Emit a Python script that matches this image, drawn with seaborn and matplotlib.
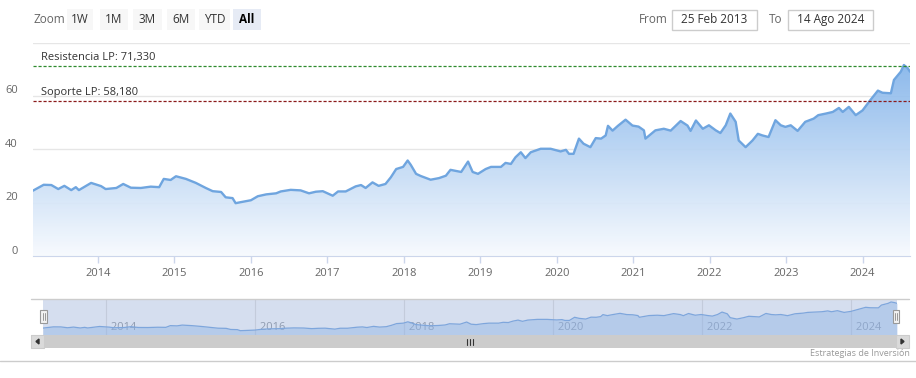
import numpy as np
import pandas as pd
import matplotlib
matplotlib.use("Agg")
import matplotlib.pyplot as plt
from matplotlib.patches import Rectangle, Polygon
from matplotlib.transforms import offset_copy
import seaborn as sns

# price series (decimal year, price)
years = [
    2013.15, 2013.29, 2013.39, 2013.48, 2013.56, 2013.65, 2013.71, 2013.75, 2013.91,
    2014.04, 2014.10, 2014.24, 2014.33, 2014.43, 2014.56, 2014.69, 2014.80, 2014.86, 2014.95,
    2015.02, 2015.15, 2015.28, 2015.41, 2015.50, 2015.61, 2015.67, 2015.76, 2015.80, 2015.87,
    2016.00, 2016.09, 2016.20, 2016.33, 2016.39, 2016.52, 2016.65, 2016.76, 2016.85, 2016.94,
    2017.07, 2017.14, 2017.24, 2017.37, 2017.44, 2017.50, 2017.59, 2017.67, 2017.76, 2017.83, 2017.90, 2017.99,
    2018.05, 2018.09, 2018.16, 2018.22, 2018.35, 2018.46, 2018.55, 2018.61, 2018.75, 2018.84, 2018.90, 2018.97,
    2019.07, 2019.14, 2019.27, 2019.33, 2019.40, 2019.46, 2019.53, 2019.59, 2019.66, 2019.79, 2019.92,
    2020.05, 2020.12, 2020.16, 2020.22, 2020.29, 2020.35, 2020.44, 2020.51, 2020.58, 2020.64, 2020.67, 2020.73, 2020.80, 2020.90, 2020.99,
    2021.07, 2021.14, 2021.16, 2021.29, 2021.40, 2021.49, 2021.62, 2021.71, 2021.75, 2021.82, 2021.91, 2021.99,
    2022.08, 2022.14, 2022.21, 2022.27, 2022.34, 2022.38, 2022.47, 2022.56, 2022.63, 2022.69, 2022.77, 2022.86, 2022.93, 2022.99,
    2023.06, 2023.15, 2023.25, 2023.36, 2023.42, 2023.52, 2023.61, 2023.69, 2023.74, 2023.82, 2023.91,
    2024.00, 2024.10, 2024.20, 2024.26, 2024.37, 2024.41, 2024.50, 2024.54, 2024.59, 2024.62,
]
prices = [
    24.5, 26.7, 26.6, 25.1, 26.3, 24.7, 25.8, 24.7, 27.4,
    26.2, 25.1, 25.5, 27.0, 25.6, 25.5, 26.0, 25.8, 28.9, 28.5,
    29.9, 28.9, 27.4, 25.5, 24.3, 24.0, 22.0, 21.7, 19.8, 20.2,
    20.9, 22.4, 23.1, 23.5, 24.2, 24.8, 24.6, 23.5, 24.1, 24.3,
    22.6, 24.2, 24.2, 26.1, 26.6, 25.5, 27.6, 26.3, 27.0, 29.5, 32.6, 33.4,
    35.8, 34.2, 30.8, 30.0, 28.6, 29.2, 30.1, 32.3, 31.5, 35.4, 31.5, 30.8,
    32.6, 33.4, 33.4, 34.9, 34.5, 37.0, 38.9, 36.7, 38.9, 40.2, 40.2,
    39.2, 39.8, 38.3, 38.3, 44.0, 42.1, 40.8, 44.2, 44.0, 45.2, 48.8, 47.0, 48.8, 51.1, 48.9,
    48.5, 47.1, 44.0, 47.1, 47.7, 47.0, 50.6, 48.9, 46.9, 50.8, 47.7, 49.0,
    47.1, 46.1, 49.0, 53.4, 50.3, 43.3, 40.8, 43.3, 45.8, 45.2, 44.6, 50.9, 49.0, 48.4,
    49.0, 46.9, 50.3, 51.5, 52.8, 53.4, 54.0, 55.5, 54.0, 55.9, 52.8,
    54.6, 58.4, 62.0, 61.2, 61.0, 66.0, 69.1, 71.6, 70.4, 69.1,
]

year_ticks = list(range(2014, 2025))
nav_ticks = [2014, 2016, 2018, 2020, 2022, 2024]
y_ticks = [0, 20, 40, 60]
resistance = 71.33
support = 58.18
resistance_label = "Resistencia LP: 71,330"
support_label = "Soporte LP: 58,180"
zoom_buttons = ["1W", "1M", "3M", "6M", "YTD", "All"]
date_from = "25 Feb 2013"
date_to = "14 Ago 2024"
start_year, end_year = 2013.15, 2024.62
credit = "Estrategias de Inversión"

W, H = 916, 378
sns.set_style("white")
plt.rcParams['font.family'] = ['Open Sans', 'DejaVu Sans']

df = pd.DataFrame({"year": years, "price": prices})

fig = plt.figure(figsize=(W / 100, H / 100), dpi=100)
fig.patch.set_facecolor("white")


def box(x0, y0, x1, y1):
    # pixel box (top-left origin) -> figure rect
    return [x0 / W, 1 - y1 / H, (x1 - x0) / W, (y1 - y0) / H]


# overlay in pixel coordinates for the buttons, inputs, scrollbar
ov = fig.add_axes([0, 0, 1, 1])
ov.set_xlim(0, W)
ov.set_ylim(H, 0)
ov.axis("off")
ov.patch.set_alpha(0)

ov.text(33, 19.5, "Zoom", ha="left", va="center", fontsize=8.5, color="#666666")
btn_x = [(67, 93), (100, 128), (133, 162), (167, 195), (199, 230), (233, 261)]
for label, (x0, x1) in zip(zoom_buttons, btn_x):
    sel = label == "All"
    ov.add_patch(Rectangle((x0, 9), x1 - x0, 21, facecolor="#e6ebf5" if sel else "#f7f7f7",
                           edgecolor="none"))
    ov.text((x0 + x1) / 2, 19.5, label, ha="center", va="center", fontsize=8.5,
            color="#000000" if sel else "#333333", fontweight="bold" if sel else "normal")

ov.text(639, 19.5, "From", ha="left", va="center", fontsize=8.5, color="#666666")
ov.add_patch(Rectangle((672, 10), 85, 20, facecolor="white", edgecolor="#cccccc", lw=1))
ov.text(714.5, 19.5, date_from, ha="center", va="center", fontsize=8.5, color="#333333")
ov.text(769, 19.5, "To", ha="left", va="center", fontsize=8.5, color="#666666")
ov.add_patch(Rectangle((788, 10), 85, 20, facecolor="white", edgecolor="#cccccc", lw=1))
ov.text(830.5, 19.5, date_to, ha="center", va="center", fontsize=8.5, color="#333333")

# scrollbar
ov.add_patch(Rectangle((31, 335), 878, 13, facecolor="#cccccc", edgecolor="none"))
ov.add_patch(Rectangle((31, 335), 13, 13, facecolor="#dadada", edgecolor="#cccccc", lw=0.8))
ov.add_patch(Rectangle((896, 335), 13, 13, facecolor="#dadada", edgecolor="#cccccc", lw=0.8))
ov.add_patch(Polygon([(36, 341.5), (39, 339), (39, 344)], closed=True, color="#333333"))
ov.add_patch(Polygon([(904, 341.5), (901, 339), (901, 344)], closed=True, color="#333333"))
for rx in (467, 470, 473):
    ov.plot([rx, rx], [339, 344.5], color="#333333", lw=0.8)

ov.plot([31, 909], [299, 299], color="#cccccc", lw=1)
ov.plot([0, W], [361, 361], color="#cccccc", lw=1)
ov.text(910, 354, credit, ha="right", va="center", fontsize=6.5, color="#999999")

# main chart
ax = fig.add_axes(box(33, 42.6, 910, 256))
ax.set_xlim(start_year, end_year)
ax.set_ylim(0, 80)
ax.set_yticks(y_ticks + [80])
ax.grid(axis="y", color="#e6e6e6", lw=1)
ax.grid(axis="x", visible=False)
ax.set_axisbelow(True)

area = ax.fill_between(df["year"], df["price"], 0, facecolor="none", edgecolor="none")
top_c = np.array([118, 172, 232]) / 255
bot_c = np.array([247, 250, 254]) / 255
t = np.linspace(0, 1, 256)[:, None]
grad = (top_c * (1 - t) + bot_c * t).reshape(256, 1, 3)
im = ax.imshow(grad, extent=[start_year, end_year, 0, 80], aspect="auto",
               origin="upper", zorder=1, alpha=0.92)
im.set_clip_path(area.get_paths()[0], transform=ax.transData)

sns.lineplot(data=df, x="year", y="price", ax=ax, color="#6fa5df", lw=1.7, zorder=3)

ax.axhline(resistance, color="#2e8b2e", lw=0.9, ls=(0, (2.5, 1.5)), zorder=4)
ax.axhline(support, color="#8b1a1a", lw=0.9, ls=(0, (2.5, 1.5)), zorder=4)
lab_tr = offset_copy(ax.get_yaxis_transform(), fig=fig, y=3, units="dots")
ax.text(8 / 877, resistance, resistance_label, transform=lab_tr, va="bottom", ha="left",
        fontsize=8, color="#333333", zorder=5)
ax.text(8 / 877, support, support_label, transform=lab_tr, va="bottom", ha="left",
        fontsize=8, color="#333333", zorder=5)

ax.set_xticks(year_ticks)
ax.set_xticklabels([str(y) for y in year_ticks])
ax.tick_params(axis="x", length=5, width=1, color="#ccd6eb", labelsize=8,
               labelcolor="#666666", pad=4, bottom=True)
ax.tick_params(axis="y", length=0, labelleft=False)
ytr = offset_copy(ax.get_yaxis_transform(), fig=fig, y=5, units="dots")
for v in y_ticks:
    ax.text(-15 / 877, v, str(v), transform=ytr, ha="right", va="center",
            fontsize=8, color="#666666")
for s in ["top", "right", "left"]:
    ax.spines[s].set_visible(False)
ax.spines["bottom"].set_color("#ccd6eb")
ax.set_xlabel("")
ax.set_ylabel("")

# navigator
nav = fig.add_axes(box(43, 299, 897, 335))
nav.set_facecolor("#d5deef")
nav.set_xlim(start_year, end_year)
nav.set_ylim(12, 77)
for s in nav.spines.values():
    s.set_visible(False)
nav.set_xticks([])
nav.set_yticks([])
for yr in nav_ticks:
    nav.axvline(yr, color="#c3cbdb", lw=0.8, zorder=1)
    nav.text(yr, 0.2, f" {yr}", transform=offset_copy(nav.get_xaxis_transform(), fig=fig, x=2, units="dots"),
             ha="left", va="center", fontsize=8, color="#8f9bb0", zorder=2)
nav.fill_between(df["year"], df["price"], 12, color="#8fb4e6", alpha=0.45, lw=0, zorder=3)
sns.lineplot(data=df, x="year", y="price", ax=nav, color="#7ea6dc", lw=0.9, zorder=4)
nav.set_xlabel("")
nav.set_ylabel("")

# navigator handles
for (hx0, hx1) in [(40, 47), (893, 899)]:
    ov.add_patch(Rectangle((hx0, 310), hx1 - hx0, 13, facecolor="#f2f2f2",
                           edgecolor="#999999", lw=0.8, zorder=10))
    cx = (hx0 + hx1) / 2
    for dx in (-1, 1):
        ov.plot([cx + dx, cx + dx], [313, 320], color="#999999", lw=0.7, zorder=11)
ov.set_zorder(5)

fig.savefig("out.png", dpi=100)
